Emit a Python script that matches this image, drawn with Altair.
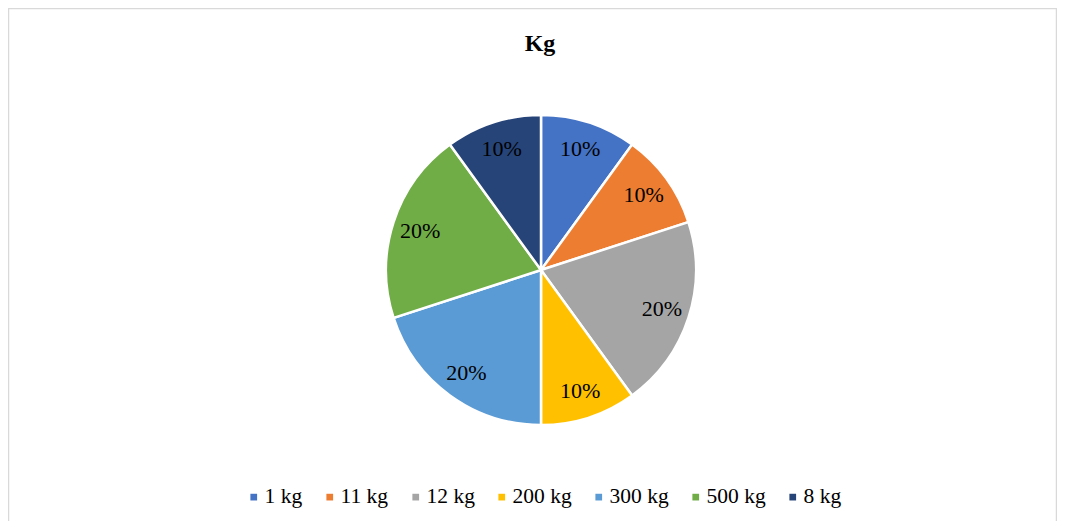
import altair as alt
import pandas as pd

categories = ["1 kg", "11 kg", "12 kg", "200 kg", "300 kg", "500 kg", "8 kg"]
shares = [10, 10, 20, 10, 20, 20, 10]
labels = ["10%", "10%", "20%", "10%", "20%", "20%", "10%"]
colors = ["#4472C4", "#ED7D31", "#A5A5A5", "#FFC000", "#5B9BD5", "#70AD47", "#264478"]

df = pd.DataFrame({"cat": categories, "share": shares, "label": labels,
                   "idx": list(range(len(categories)))})

FONT = "Liberation Serif"
W, H = 1049, 513
CX, CY = 533, 262
BORDER = "#d9d9d9"

base = alt.Chart(df).encode(
    theta=alt.Theta("share:Q", stack=True),
    order=alt.Order("idx:Q"),
)

arcs = base.mark_arc(outerRadius=155, stroke="white", strokeWidth=2.5).encode(
    x=alt.value(CX), y=alt.value(CY),
    color=alt.Color("cat:N", sort=categories,
                    scale=alt.Scale(domain=categories, range=colors),
                    legend=alt.Legend(title=None, orient="none", direction="horizontal",
                                      columns=7, legendX=235, legendY=478,
                                      padding=0,
                                      symbolType="square", symbolSize=45,
                                      symbolStrokeWidth=0,
                                      labelFont=FONT, labelFontSize=21.5,
                                      labelColor="#000000", columnPadding=16,
                                      labelOffset=0)),
)

texts = base.mark_text(radius=127, font=FONT, fontSize=22, color="#000000").encode(
    x=alt.value(CX), y=alt.value(CY),
    text="label:N",
)

title = alt.Chart(pd.DataFrame({"t": ["Kg"]})).mark_text(
    font=FONT, fontSize=24, fontWeight="bold", color="#000000"
).encode(x=alt.value(CX - 1), y=alt.value(36), text="t:N")

# chart frame (top, left, right edges; bottom lies below the window in the original)
frame_top = alt.Chart(pd.DataFrame({"a": [0]})).mark_rule(color=BORDER, strokeWidth=1.5).encode(
    x=alt.value(0.5), x2=alt.value(W), y=alt.value(0.5))
frame_left = alt.Chart(pd.DataFrame({"a": [0]})).mark_rule(color=BORDER, strokeWidth=1.5).encode(
    x=alt.value(0.5), y=alt.value(0), y2=alt.value(H))
frame_right = alt.Chart(pd.DataFrame({"a": [0]})).mark_rule(color=BORDER, strokeWidth=1.5).encode(
    x=alt.value(W - 0.5), y=alt.value(0), y2=alt.value(H))

chart = alt.layer(frame_top, frame_left, frame_right, arcs, texts, title).properties(
    width=W, height=H, padding=0, autosize=alt.AutoSizeParams(type="none")
).configure_view(stroke=None)

chart.save("out.html", embed_options={"renderer": "svg", "actions": False})
